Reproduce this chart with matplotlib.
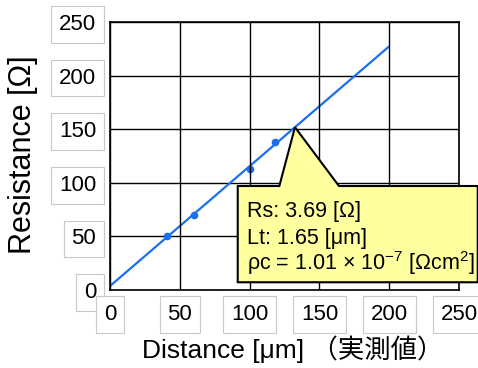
import numpy as np
import matplotlib
matplotlib.use("Agg")
import matplotlib.pyplot as plt
from matplotlib.patches import Polygon

# Measured TLM data
distance_um = [41, 60, 100.5, 118]
resistance_ohm = [50, 70, 113, 138]
ticks = [0, 50, 100, 150, 200, 250]

# Extracted parameters (fit line follows from Rs and Lt)
rs_ohm = 3.69
lt_um = 1.65
rho_c_mantissa = "1.01"
rho_c_exp = -7
fit_range = [0, 200]

plt.rcParams['font.family'] = ['Liberation Sans', 'Noto Sans CJK JP']
plt.rcParams['mathtext.fontset'] = 'custom'
plt.rcParams['mathtext.rm'] = 'Liberation Sans'
plt.rcParams['mathtext.it'] = 'Liberation Sans'

blue = '#1a6ff0'

fig = plt.figure(figsize=(4.78, 3.68), dpi=100)
ax = fig.add_axes([0.2301, 0.2120, 0.7302, 0.7282])

slope = rs_ohm / (2 * lt_um)
fit_x = np.array(fit_range, dtype=float)
fit_y = rs_ohm + slope * fit_x

ax.plot(fit_x, fit_y, color=blue, lw=1.6, zorder=2.5, solid_capstyle='butt')
ax.plot(distance_um, resistance_ohm, 'o', ms=4.5, color=blue, zorder=2.6)

ax.set_xlim(0, 250)
ax.set_ylim(0, 250)
ax.set_xticks(ticks)
ax.set_yticks(ticks)
ax.grid(True, color='black', lw=1.0)
ax.set_axisbelow(True)
for sp in ax.spines.values():
    sp.set_color('black')
    sp.set_linewidth(1.2)

ax.tick_params(length=0, labelsize=16, pad=10)
box = dict(boxstyle='square,pad=0.35', fc='white', ec='#c8c8c8', lw=0.8)
for t in ax.xaxis.get_major_ticks() + ax.yaxis.get_major_ticks():
    t.label1.set_bbox(box)
ax.xaxis.set_zorder(2.7)

# Callout balloon pointing at the fit line
box_l, box_r, box_b, box_t = 91.5, 263.4, 7.2, 97
base_l, base_r = 121.3, 164
tip_x = 132.5
tip_y = rs_ohm + slope * tip_x
verts = [(box_l, box_t), (base_l, box_t), (tip_x, tip_y), (base_r, box_t),
         (box_r, box_t), (box_r, box_b), (box_l, box_b)]
ax.add_patch(Polygon(verts, closed=True, fc='#ffffa0', ec='black', lw=1.5,
                     zorder=3, clip_on=False, joinstyle='miter'))

lines = [
    f"Rs: {rs_ohm:.2f} [Ω]",
    f"Lt: {lt_um:.2f} [μm]",
    f"ρc = {rho_c_mantissa} × 10$^{{{rho_c_exp}}}$ [Ωcm$^{{2}}$]",
]
for txt, yb in zip(lines, [67.8, 42.9, 18.2]):
    ax.text(97.9, yb, txt, fontsize=15.5, va='baseline', ha='left',
            zorder=4, clip_on=False)

fig.text(23.5 / 478, 0.580, 'Resistance [Ω]', rotation=90,
         ha='center', va='center', fontsize=22)
fig.text(292.5 / 478, 0.0264, 'Distance [μm] （実測値）',
         ha='center', va='baseline', fontsize=19)

fig.savefig('out.png', dpi=100)
